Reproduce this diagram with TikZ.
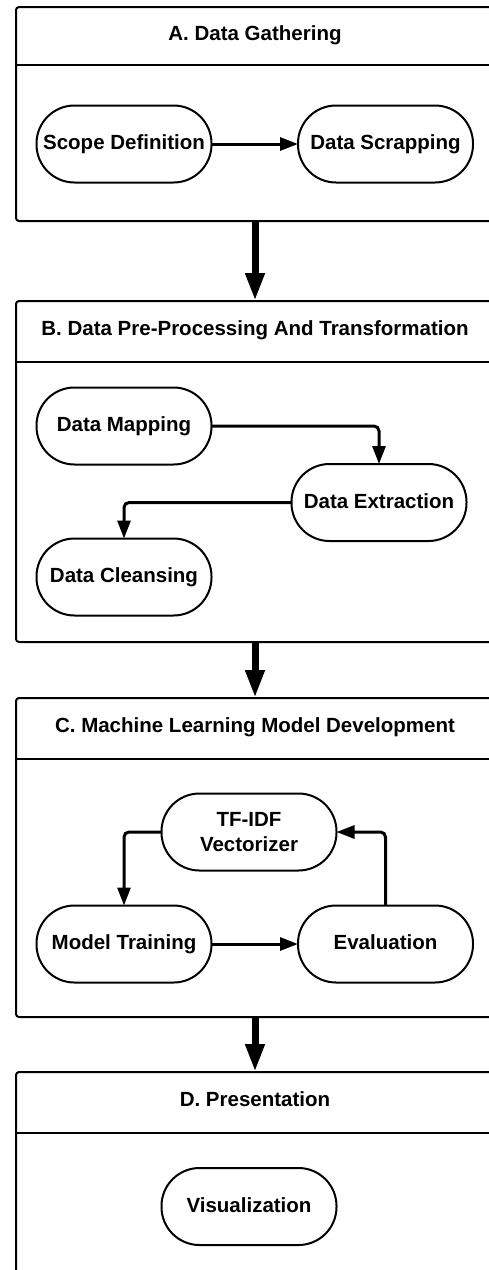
\documentclass[tikz,border=0pt]{standalone}
\usepackage{fontspec}
\setmainfont{Liberation Sans}
\usetikzlibrary{arrows.meta}
\begin{document}
\begin{tikzpicture}[x=1pt,y=-1pt,
  stage/.style={draw, line width=2pt, rounded corners=3pt, minimum width=478pt, outer sep=0pt, inner sep=0pt},
  title/.style={font=\fontsize{20.5}{25}\selectfont\bfseries, anchor=base},
  proc/.style={draw, line width=2pt, rounded corners=38pt, minimum width=175pt, minimum height=77pt, inner sep=0pt, outer sep=0pt, align=center, text height=15pt, text depth=4pt, font=\fontsize{20.5}{25}\selectfont\bfseries},
  conn/.style={line width=3pt, rounded corners=5pt, -{Triangle[length=18pt,width=13pt]}},
  big/.style={line width=7pt, -{Triangle[length=28pt,width=18pt]}},
  divider/.style={line width=2pt}
]
\useasboundingbox (0,0) rectangle (489,1270);
\clip (0,0) rectangle (489,1270);

% stage boxes
\node[stage, minimum height=214pt] (A) at (255,114) {};
\node[stage, minimum height=341pt] (B) at (255,471.5) {};
\node[stage, minimum height=319pt] (C) at (255,857.5) {};
\node[stage, minimum height=228pt] (D) at (255,1186) {};

\draw[divider] (16,65) -- (494,65);
\draw[divider] (16,362) -- (494,362);
\draw[divider] (16,759) -- (494,759);
\draw[divider] (16,1133) -- (494,1133);

\node[title] (tA) at (255,40.5) {A. Data Gathering};
\node[title] (tB) at (255,335) {B. Data Pre-Processing And Transformation};
\node[title] (tC) at (255,732) {C. Machine Learning Model Development};
\node[title] (tD) at (255,1106) {D. Presentation};

% process nodes
\node[proc] (scope) at (124,144) {Scope Definition};
\node[proc] (scrap) at (385.5,144) {Data Scrapping};
\node[proc] (map) at (124,426) {Data Mapping};
\node[proc] (ext) at (379,502.5) {Data Extraction};
\node[proc] (clean) at (124,577) {Data Cleansing};
\node[proc, text height=, text depth=] (tfidf) at (249,832) {TF-IDF\\Vectorizer};
\node[proc] (train) at (124,944) {Model Training};
\node[proc] (eval) at (385.5,944) {Evaluation};
\node[proc] (vis) at (249,1206.5) {Visualization};

% connectors
\draw[conn] (scope) -- (scrap);
\draw[conn] (map.east) -| (ext.north);
\draw[conn] (ext.west) -| (clean.north);
\draw[conn] (tfidf.west) -| (train.north);
\draw[conn] (train) -- (eval);
\draw[conn] (eval.north) |- (tfidf.east);

\draw[big] (A.south) -- (B.north);
\draw[big] (B.south) -- (C.north);
\draw[big] (C.south) -- (D.north);
\end{tikzpicture}
\end{document}
